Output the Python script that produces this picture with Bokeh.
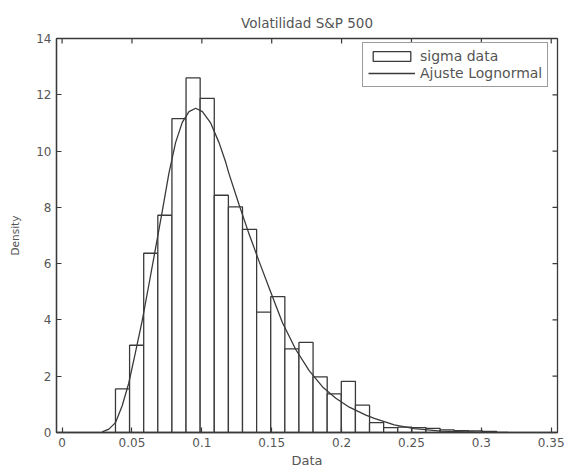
import math
from bokeh.plotting import figure
from bokeh.models import Range1d, FixedTicker, Legend, LegendItem, ColumnDataSource
from bokeh.embed import file_html
from bokeh.resources import INLINE

# ---- data ----
title_text = "Volatilidad S&P 500"
x_label = "Data"
y_label = "Density"
series_hist = "sigma data"
series_fit = "Ajuste Lognormal"

bin_edges = [0.0382, 0.0483, 0.0584, 0.0685, 0.0786, 0.0887, 0.0988, 0.1089,
             0.1190, 0.1291, 0.1392, 0.1493, 0.1594, 0.1695, 0.1796, 0.1897,
             0.1998, 0.2099, 0.2200, 0.2301, 0.2402, 0.2503, 0.2604, 0.2705,
             0.2806, 0.2907, 0.3008, 0.3109]
density = [1.55, 3.10, 6.37, 7.72, 11.15, 12.60, 11.87, 8.43, 8.02, 7.22,
           4.28, 4.83, 2.97, 3.20, 1.98, 1.37, 1.82, 0.97, 0.35, 0.17,
           0.19, 0.17, 0.15, 0.09, 0.07, 0.06, 0.04]

fit_x = [0.0287, 0.0335, 0.0382, 0.0430, 0.0477, 0.0525, 0.0573, 0.0621,
         0.0669, 0.0717, 0.0764, 0.0812, 0.0860, 0.0908, 0.0956, 0.1004,
         0.1063, 0.1123, 0.1171, 0.1194, 0.1266, 0.1338, 0.1409, 0.1481,
         0.1577, 0.1672, 0.1768, 0.1864, 0.1959, 0.2055, 0.2174, 0.2234,
         0.2377, 0.2520, 0.2712, 0.2948, 0.3192]
fit_y = [0.02, 0.12, 0.35, 0.95, 1.75, 2.85, 3.97, 5.25,
         6.55, 7.87, 9.20, 10.30, 11.02, 11.40, 11.52, 11.40,
         11.00, 10.30, 9.60, 9.20, 8.10, 7.05, 6.09, 5.14,
         3.90, 2.95, 2.20, 1.62, 1.22, 0.90, 0.62, 0.50,
         0.27, 0.14, 0.05, 0.01, 0.00]

x_ticks = [0, 0.05, 0.1, 0.15, 0.2, 0.25, 0.3, 0.35]
x_tick_labels = ["0", "0.05", "0.1", "0.15", "0.2", "0.25", "0.3", "0.35"]
y_ticks = [0, 2, 4, 6, 8, 10, 12, 14]
y_tick_labels = ["0", "2", "4", "6", "8", "10", "12", "14"]

# axis limits
X_MIN, X_MAX = -0.004, 0.3545
Y_MIN, Y_MAX = 0, 14

# ---- style ----
INK = "#3a3a3a"
TXT = "#555555"
FONT = "DejaVu Sans"

p = figure(width=567, height=470, output_backend="svg", toolbar_location=None,
           x_range=Range1d(X_MIN, X_MAX), y_range=Range1d(Y_MIN, Y_MAX),
           min_border_left=56, min_border_right=10, min_border_top=38,
           min_border_bottom=38)
p.background_fill_color = "white"
p.border_fill_color = "white"
p.xgrid.visible = False
p.ygrid.visible = False
p.outline_line_color = INK
p.outline_line_width = 1.3

p.title.text = title_text
p.title.align = "center"
p.title.text_font = FONT
p.title.text_font_size = "13.5px"
p.title.text_font_style = "normal"
p.title.text_color = TXT
p.title.standoff = 16

src = ColumnDataSource(dict(left=bin_edges[:-1], right=bin_edges[1:],
                            top=density, bottom=[0] * len(density)))
r_hist = p.quad(left="left", right="right", top="top", bottom="bottom", source=src,
                fill_color="white", line_color=INK, line_width=1.3)
r_fit = p.line(fit_x, fit_y, line_color=INK, line_width=1.3)

# inward ticks on the top and right edges of the box (half of each dash is clipped)
p.scatter(x=x_ticks, y=[Y_MAX] * len(x_ticks), marker="dash", size=10,
          angle=math.pi / 2, line_color=INK, line_width=1.2)
p.scatter(x=[X_MAX] * len(y_ticks), y=y_ticks, marker="dash", size=10,
          line_color=INK, line_width=1.2)


def style_axis(ax):
    ax.major_tick_in = 5
    ax.major_tick_out = 0
    ax.minor_tick_line_color = None
    ax.major_tick_line_color = INK
    ax.major_tick_line_width = 1.2
    ax.axis_line_color = INK
    ax.axis_line_width = 1.3
    ax.major_label_text_font = FONT
    ax.major_label_text_font_size = "12px"
    ax.major_label_text_color = TXT
    ax.major_label_standoff = 5


xax = p.xaxis[0]
xax.ticker = FixedTicker(ticks=x_ticks)
xax.major_label_overrides = dict(zip(x_ticks, x_tick_labels))
style_axis(xax)
xax.axis_label = x_label
xax.axis_label_text_font = FONT
xax.axis_label_text_font_size = "13px"
xax.axis_label_text_font_style = "normal"
xax.axis_label_text_color = TXT
xax.axis_label_standoff = 3

yax = p.yaxis[0]
yax.ticker = FixedTicker(ticks=y_ticks)
yax.major_label_overrides = dict(zip(y_ticks, y_tick_labels))
style_axis(yax)
yax.axis_label = y_label
yax.axis_label_text_font = FONT
yax.axis_label_text_font_size = "10.5px"
yax.axis_label_text_font_style = "normal"
yax.axis_label_text_color = TXT
yax.axis_label_standoff = 12

legend = Legend(items=[LegendItem(label=series_hist, renderers=[r_hist]),
                       LegendItem(label=series_fit, renderers=[r_fit])],
                location=(306, 345))
legend.border_line_color = INK
legend.border_line_width = 1.3
legend.background_fill_color = "white"
legend.background_fill_alpha = 1.0
legend.label_text_font = FONT
legend.label_text_font_size = "14px"
legend.label_text_color = TXT
legend.glyph_width = 47
legend.glyph_height = 12
legend.label_height = 12
legend.label_standoff = 5
legend.padding = 5
legend.spacing = 1
legend.margin = 0
p.add_layout(legend)

open("out.html", "w").write(file_html(p, INLINE))
